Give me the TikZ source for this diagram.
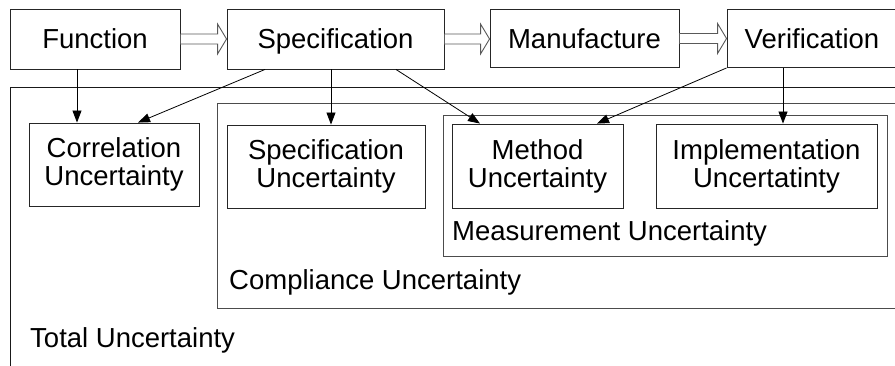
\documentclass[tikz,border=0pt]{standalone}
\usepackage{fontspec}
\setmainfont{Liberation Sans}
\usetikzlibrary{arrows.meta,calc}
\begin{document}
\begin{tikzpicture}[x=1pt,y=-1pt,
  box/.style={draw=black!85,line width=0.9pt,inner sep=0pt,align=center,
    font=\fontsize{27.5}{28}\selectfont},
  topbox/.style={box,text height=19.7pt,text depth=0pt},
  container/.style={draw=black!70,line width=0.9pt},
  lbl/.style={inner sep=0pt,anchor=base west,font=\fontsize{27.5}{28}\selectfont},
  conn/.style={draw=black,line width=0.8pt,-{Triangle[length=12pt,width=9pt]}},
  hollow/.style={draw=black!65,line width=0.9pt,fill=white}]
\useasboundingbox (0,0) rectangle (895,365);
% containers
\draw[container,draw=black!90] (10,87) rectangle (905,375);
\draw[container] (217,103) rectangle (905,308);
\draw[container] (443,115) rectangle (887,256);
\node[lbl] (totl) at (30,347) {Total Uncertainty};
\node[lbl] (compl) at (229,289) {Compliance Uncertainty};
\node[lbl] (measl) at (452,240) {Measurement Uncertainty};
% top row
\node[topbox,minimum width=170pt,minimum height=60pt] (func) at (95,39) {Function};
\node[topbox,minimum width=217pt,minimum height=60pt] (spec) at (335.5,39) {Specification};
\node[topbox,minimum width=189pt,minimum height=58pt] (manu) at (584.5,38.5) {Manufacture};
\node[topbox,minimum width=170pt,minimum height=58pt] (veri) at (812,38.5) {Verification};
% inner boxes
\node[box,minimum width=170pt,minimum height=83pt] (corr) at (114,164.5) {Correlation\\Uncertainty};
\node[box,minimum width=198pt,minimum height=83pt] (specu) at (326,166.5) {Specification\\Uncertainty};
\node[box,minimum width=171pt,minimum height=84pt] (meth) at (537.5,166) {Method\\Uncertainty};
\node[box,minimum width=221pt,minimum height=84pt] (impl) at (766.5,166) {Implementation\\Uncertatinty};
% hollow arrows
\foreach \a/\b in {func/spec,spec/manu,manu/veri}{
  \path let \p1=(\a.east), \p2=(\b.west) in
    [hollow] (\x1,\y1+5pt) -- (\x2-9pt,\y1+5pt) -- (\x2-9pt,\y1+15pt) -- (\x2,\y1)
      -- (\x2-9pt,\y1-15pt) -- (\x2-9pt,\y1-5pt) -- (\x1,\y1-5pt) -- cycle;
}
% connectors
\draw[conn] ([xshift=-18pt]func.south) -- ([xshift=-37pt]corr.north);
\draw[conn] ([xshift=-70.5pt]spec.south) -- ([xshift=24pt]corr.north);
\draw[conn] ([xshift=-4.5pt]spec.south) -- ([xshift=5pt]specu.north);
\draw[conn] ([xshift=60.5pt]spec.south) -- ([xshift=-57.5pt]meth.north);
\draw[conn] (veri.south west) -- ([xshift=59.5pt]meth.north);
\draw[conn] ([xshift=-29pt]veri.south) -- ([xshift=16.5pt]impl.north);
\end{tikzpicture}
\end{document}
